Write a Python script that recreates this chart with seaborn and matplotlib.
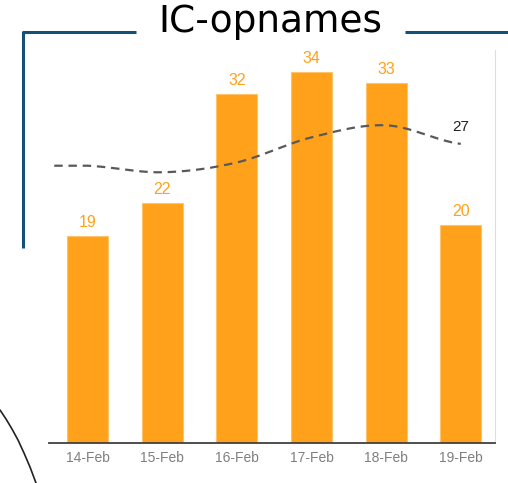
import numpy as np
import pandas as pd
import matplotlib
matplotlib.use("Agg")
import matplotlib.pyplot as plt
from matplotlib.lines import Line2D
import seaborn as sns

# ---- data ----
dates = ["14-Feb", "15-Feb", "16-Feb", "17-Feb", "18-Feb", "19-Feb"]
admissions = [19, 22, 32, 34, 33, 20]
trend = [25.4, 24.8, 25.7, 28.0, 29.1, 27.4]
trend_label = "27"
title = "IC-opnames"

BAR = "#FFA11A"
BAR_EDGE = "#FFC46A"
BLUE = "#13507A"

sns.set_theme(style="white")
plt.rcParams["font.family"] = ["Liberation Sans", "DejaVu Sans"]

fig = plt.figure(figsize=(5.08, 4.83), dpi=100)
ax = fig.add_axes([0.0965, 0.0828, 0.878, 0.8137])

df = pd.DataFrame({"date": dates, "n": admissions})
sns.barplot(data=df, x="date", y="n", color=BAR, width=0.55, saturation=1,
            edgecolor=BAR_EDGE, linewidth=0.8, ax=ax)
for c in ax.containers:
    ax.bar_label(c, labels=[str(v) for v in admissions], padding=4,
                 color=BAR, fontsize=11.5)

# smoothed trend line (Catmull-Rom through the category points)
xs = np.arange(len(trend), dtype=float)
ys = np.asarray(trend, dtype=float)
px = np.concatenate([[xs[0] - 1], xs, [xs[-1] + 1]])
py = np.concatenate([[ys[0]], ys, [ys[-1]]])
sx, sy = [], []
t = np.linspace(0, 1, 30)
for i in range(1, len(px) - 2):
    p0, p1, p2, p3 = py[i - 1], py[i], py[i + 1], py[i + 2]
    yy = 0.5 * ((2 * p1) + (-p0 + p2) * t + (2 * p0 - 5 * p1 + 4 * p2 - p3) * t**2
                + (-p0 + 3 * p1 - 3 * p2 + p3) * t**3)
    sx.extend(px[i] + t)
    sy.extend(yy)
# short flat lead-in to the left of the first category
sx = [xs[0] - 0.45] + sx
sy = [ys[0]] + sy
line_df = pd.DataFrame({"x": sx, "y": sy})
sns.lineplot(data=line_df, x="x", y="y", sort=False, color="#595959",
             linewidth=1.6, ax=ax, dashes=False)
ax.lines[-1].set_dashes((3.8, 2.6))
ax.annotate(trend_label, (xs[-1], ys[-1]), xytext=(0, 7), textcoords="offset points",
            ha="center", va="bottom", fontsize=11, color="#222222")

ax.set_xlim(-0.52, 5.46)
ax.set_ylim(0, 36)
ax.set_xlabel("")
ax.set_ylabel("")
ax.set_yticks([])
ax.tick_params(axis="x", length=0, pad=6, labelsize=10, labelcolor="#7F7F7F")
for s in ["top", "left"]:
    ax.spines[s].set_visible(False)
ax.spines["bottom"].set_color("#404040")
ax.spines["bottom"].set_linewidth(1.3)
ax.spines["right"].set_color("#DDDDDD")
ax.spines["right"].set_linewidth(0.8)

# title and bracket decoration
W, H = 508, 483
def fx(x):
    return x / W
def fy(y):
    return 1 - y / H
fig.text(fx(270), fy(22), title, ha="center", va="center", fontsize=27,
         family="DejaVu Sans", color="black")
fig.add_artist(Line2D([fx(23), fx(23), fx(136)], [fy(248), fy(32), fy(32)],
                      color=BLUE, linewidth=2.2, solid_capstyle="butt"))
fig.add_artist(Line2D([fx(405), fx(508)], [fy(32), fy(32)],
                      color=BLUE, linewidth=2.2, solid_capstyle="butt"))
# curved decoration bottom-left
cx = [0, 6, 12, 18, 24, 30, 36]
cy = [410, 419, 429, 440, 453, 467, 483]
fig.add_artist(Line2D([fx(v) for v in cx], [fy(v) for v in cy],
                      color="#222222", linewidth=1.2))

fig.savefig("out.png", dpi=100, facecolor="white")
